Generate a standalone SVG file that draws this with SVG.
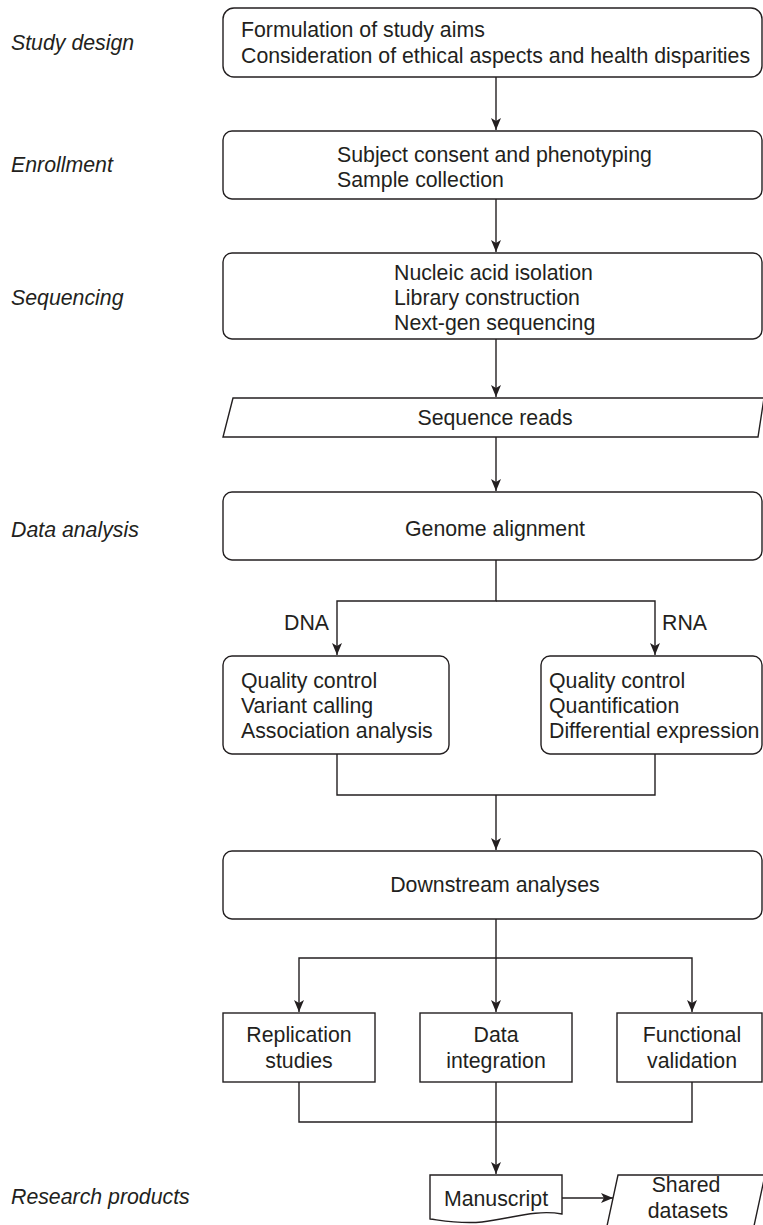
<svg xmlns="http://www.w3.org/2000/svg" width="763" height="1225" viewBox="0 0 763 1225">
<style>
text{font-family:"Liberation Sans",Arial,sans-serif;font-size:21.3px;fill:#231f20}
.lab{font-style:italic}
.c{text-anchor:middle}
.box{fill:#fff;stroke:#231f20;stroke-width:1.4}
.ln{fill:none;stroke:#231f20;stroke-width:1.4}
</style>
<defs>
<marker id="ah" markerUnits="userSpaceOnUse" markerWidth="12" markerHeight="12" viewBox="0 0 12 12" refX="12" refY="6" orient="auto">
<path d="M0,1 L12,6 L0,11 L3,6 Z" fill="#231f20"/>
</marker>
</defs>
<rect width="763" height="1225" fill="#fff"/>
<g id="labels">
<text class="lab" x="11" y="50">Study design</text>
<text class="lab" x="11" y="172">Enrollment</text>
<text class="lab" x="11" y="305">Sequencing</text>
<text class="lab" x="11" y="537">Data analysis</text>
<text class="lab" x="11" y="1204">Research products</text>
</g>
<g id="connectors">
<path class="ln" d="M496,77 V130" marker-end="url(#ah)"/>
<path class="ln" d="M496,199 V252" marker-end="url(#ah)"/>
<path class="ln" d="M496,339 V397" marker-end="url(#ah)"/>
<path class="ln" d="M496,437 V491" marker-end="url(#ah)"/>
<path class="ln" d="M496,560 V601 H337 V655" marker-end="url(#ah)"/>
<path class="ln" d="M496,601 H655 V655" marker-end="url(#ah)"/>
<path class="ln" d="M337,754 V795 H655 V754"/>
<path class="ln" d="M496,795 V850" marker-end="url(#ah)"/>
<path class="ln" d="M496,919 V958 H299 V1012" marker-end="url(#ah)"/>
<path class="ln" d="M496,958 V1012" marker-end="url(#ah)"/>
<path class="ln" d="M496,958 H692 V1012" marker-end="url(#ah)"/>
<path class="ln" d="M299,1082 V1122 H692 V1082"/>
<path class="ln" d="M496,1082 V1174" marker-end="url(#ah)"/>
<path class="ln" d="M562,1198 H613" marker-end="url(#ah)"/>
<text x="284" y="630">DNA</text>
<text x="662" y="630">RNA</text>
</g>
<g id="n1">
<rect class="box" x="223" y="8" width="539" height="69" rx="11"/>
<text x="241" y="37">Formulation of study aims</text>
<text x="241" y="63">Consideration of ethical aspects and health disparities</text>
</g>
<g id="n2">
<rect class="box" x="223" y="131" width="539" height="68" rx="9"/>
<text x="337" y="162">Subject consent and phenotyping</text>
<text x="337" y="187">Sample collection</text>
</g>
<g id="n3">
<rect class="box" x="223" y="253" width="539" height="86" rx="9"/>
<text x="394" y="280">Nucleic acid isolation</text>
<text x="394" y="305">Library construction</text>
<text x="394" y="330">Next-gen sequencing</text>
</g>
<g id="n4">
<path class="box" d="M233,398 H764 L758,437 H223 Z"/>
<text class="c" x="495" y="425">Sequence reads</text>
</g>
<g id="n5">
<rect class="box" x="223" y="492" width="539" height="68" rx="9"/>
<text class="c" x="495" y="536">Genome alignment</text>
</g>
<g id="n6">
<rect class="box" x="223" y="656" width="226" height="98" rx="9"/>
<text x="241" y="688">Quality control</text>
<text x="241" y="713">Variant calling</text>
<text x="241" y="738">Association analysis</text>
</g>
<g id="n7">
<rect class="box" x="541" y="656" width="221" height="98" rx="9"/>
<text x="549" y="688">Quality control</text>
<text x="549" y="713">Quantification</text>
<text x="549" y="738">Differential expression</text>
</g>
<g id="n8">
<rect class="box" x="223" y="851" width="539" height="68" rx="9"/>
<text class="c" x="495" y="892">Downstream analyses</text>
</g>
<g id="n9">
<rect class="box" x="223" y="1013" width="152" height="69"/>
<text class="c" x="299" y="1042">Replication</text>
<text class="c" x="299" y="1068">studies</text>
</g>
<g id="n10">
<rect class="box" x="420" y="1013" width="152" height="69"/>
<text class="c" x="496" y="1042">Data</text>
<text class="c" x="496" y="1068">integration</text>
</g>
<g id="n11">
<rect class="box" x="617" y="1013" width="145" height="69"/>
<text class="c" x="692" y="1042">Functional</text>
<text class="c" x="692" y="1068">validation</text>
</g>
<g id="n12">
<path class="box" d="M430,1175 H562 V1214 C535,1209 510,1219 482,1222 C460,1224 445,1221 430,1219 Z"/>
<text class="c" x="496" y="1206">Manuscript</text>
</g>
<g id="n13">
<path class="box" d="M618,1175 H765 L754,1226 H607 Z"/>
<text class="c" x="686" y="1192">Shared</text>
<text class="c" x="688" y="1218">datasets</text>
</g>
</svg>
